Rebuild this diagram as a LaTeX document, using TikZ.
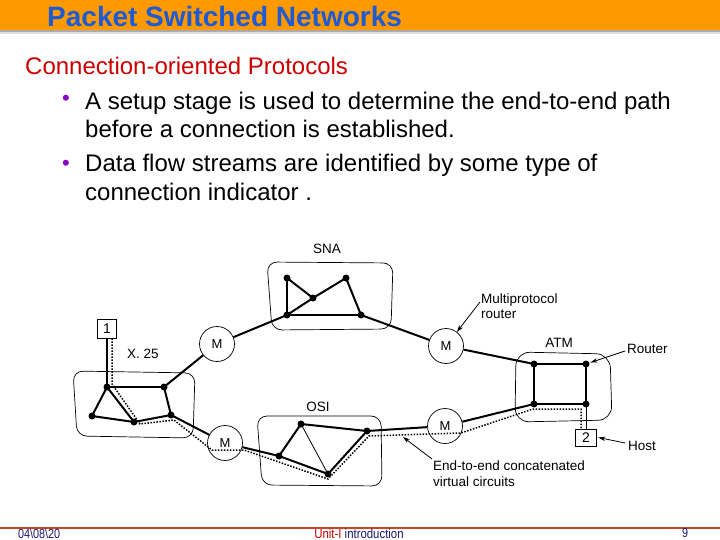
\documentclass[tikz,border=0pt]{standalone}
\usepackage{fontspec}
\usepackage{graphicx}
\setmainfont{Liberation Sans}
\usetikzlibrary{arrows.meta}
\definecolor{barorange}{RGB}{255,153,0}
\definecolor{titleblue}{RGB}{30,90,210}
\definecolor{headred}{RGB}{204,0,0}
\definecolor{bulletpurple}{RGB}{140,0,200}
\definecolor{footred}{RGB}{205,70,40}
\definecolor{footnavy}{RGB}{25,25,110}
\begin{document}
\begin{tikzpicture}[x=1pt,y=-1pt,
  dot/.style={circle,fill=black,inner sep=0pt,minimum size=7pt},
  mnode/.style={circle,draw,line width=0.7pt,minimum size=35pt,inner sep=0pt,font=\fontsize{13}{15}\selectfont},
  hostbox/.style={draw,line width=0.7pt,minimum width=19pt,minimum height=19pt,inner sep=0pt,font=\fontsize{14}{16}\selectfont},
  link/.style={line width=2pt},
  thinlink/.style={line width=0.8pt},
  region/.style={line width=0.7pt,rounded corners=10pt},
  vc/.style={line width=1.5pt,dash pattern=on 1.5pt off 1.5pt},
  lbl/.style={font=\fontsize{13.5}{16}\selectfont,inner sep=0pt},
  body/.style={anchor=base west,inner sep=0pt,font=\fontsize{24}{29}\selectfont},
  bul/.style={inner sep=0pt,text=bulletpurple,font=\fontsize{22}{22}\selectfont},
  foot/.style={anchor=base west,inner sep=0pt,font=\fontsize{12}{14}\selectfont},
  callout/.style={line width=0.8pt,-{Stealth[length=7pt,width=4.5pt]}}]
\useasboundingbox (0,0) rectangle (720,540);
\fill[white] (0,0) rectangle (720,540);
% header bar
\fill[barorange] (0,0) rectangle (720,30);
\fill[gray!65] (0,30) rectangle (720,32);
\fill[gray!25] (0,32) rectangle (720,34);
\node[anchor=base west,inner sep=0pt,text=titleblue,font=\fontsize{28}{30}\selectfont\bfseries] (title) at (47,27) {Packet Switched Networks};
% text
\node[anchor=base west,inner sep=0pt,text=headred,font=\fontsize{24}{29}\selectfont] (head) at (25,75) {Connection-oriented Protocols};
\node[bul] (b1) at (66,100) {•};
\node[body] (t1) at (85,110) {A setup stage is used to determine the end-to-end path};
\node[body] (t2) at (85,138) {before a connection is established.};
\node[bul] (b2) at (66,165) {•};
\node[body] (t3) at (85,172) {Data flow streams are identified by some type of};
\node[body] (t4) at (85,201) {connection indicator .};
% footer
\draw[footred,line width=1.2pt] (0,528) -- (720,528);
\node[foot,text=footnavy] (date) at (18,538) {\scalebox{0.9}[1.1]{04\textbackslash 08\textbackslash 20}};
\node[foot,anchor=base] (unit) at (359,538) {\scalebox{0.95}[1.1]{\textcolor{headred}{Unit-I} \textcolor{footnavy}{introduction}}};
\node[foot,text=footnavy] (page) at (682,537) {\scalebox{0.9}[1.1]{9}};
% regions
\draw[region] (73,371) -- (195,373) -- (193,438) -- (77,436) -- cycle;
\draw[region] (267,262) -- (393,263) -- (391,329) -- (272,330) -- cycle;
\draw[region] (257,416) -- (381,416) -- (382,486) -- (262,485) -- cycle;
\draw[line width=0.7pt,rounded corners=14pt] (516,352) -- (610,354) -- (612,420) -- (515,422) -- cycle;
% region labels
\node[lbl,anchor=base] (lx25) at (143,358) {X. 25};
\node[lbl,anchor=base] (lsna) at (327,253) {SNA};
\node[lbl,anchor=base] (losi) at (318,411) {OSI};
\node[lbl,anchor=base] (latm) at (559,347) {ATM};
% hosts
\node[hostbox] (h1) at (107,328.5) {1};
\node[hostbox,minimum width=21pt,minimum height=17pt] (h2) at (586,437.5) {2};
% multiprotocol routers
\node[mnode] (M1) at (217,344) {M};
\node[mnode] (M2) at (225,443) {M};
\node[mnode] (M4) at (446,346) {M};
\node[mnode] (M3) at (445,426) {M};
% dots
\node[dot] (A) at (107,387) {};
\node[dot] (B) at (164,387) {};
\node[dot] (C) at (92,416) {};
\node[dot] (D) at (134,422) {};
\node[dot] (E) at (171,415) {};
\node[dot] (J) at (287,278) {};
\node[dot] (K) at (313,298) {};
\node[dot] (L) at (346,278) {};
\node[dot] (N) at (287,315) {};
\node[dot] (O) at (361,315) {};
\node[dot] (F) at (279,456) {};
\node[dot] (G) at (301,424) {};
\node[dot] (H) at (328,474) {};
\node[dot] (I) at (367,431) {};
\node[dot] (P) at (534,364) {};
\node[dot] (Q) at (586,364) {};
\node[dot] (R) at (534,404) {};
\node[dot] (S) at (586,404) {};
% links
\draw[link] (A.center) -- (h1.south);
\draw[link] (A.center) -- (B.center);
\draw[link] (A.center) -- (C.center);
\draw[link] (A.center) -- (D.center);
\draw[link] (C.center) -- (D.center);
\draw[link] (D.center) -- (E.center);
\draw[link] (B.center) -- (E.center);
\draw[link] (B.center) -- (M1);
\draw[link] (E.center) -- (M2);
\draw[link] (M1) -- (N.center);
\draw[link] (N.center) -- (K.center) -- (L.center);
\draw[link] (J.center) -- (K.center);
\draw[link] (J.center) -- (N.center);
\draw[link] (N.center) -- (O.center);
\draw[link] (L.center) -- (O.center);
\draw[link] (O.center) -- (M4);
\draw[link] (M4) -- (P.center);
\draw[link] (M2) -- (F.center);
\draw[link] (F.center) -- (G.center);
\draw[link] (F.center) -- (H.center);
\draw[link] (H.center) -- (I.center);
\draw[link] (G.center) -- (I.center);
\draw[thinlink] (G.center) -- (H.center);
\draw[link] (I.center) -- (M3);
\draw[link] (M3) -- (R.center);
\draw[link] (P.center) -- (Q.center) -- (S.center) -- (R.center) -- cycle;
\draw[thinlink] (S.center) -- (h2.north);
% end-to-end virtual circuit
\draw[vc] ([xshift=5pt]h1.south) -- (112,384) -- (140,424) -- (174,420) -- (212,450) -- (244,450) -- (328,479) -- (369,436) -- (428,434) -- (461,433) -- (533,409) -- (581,409) -- ([xshift=-5pt]h2.north);
% callouts
\node[lbl,anchor=base west] (mpr) at (481,303) {Multiprotocol};
\node[lbl,anchor=base west] (mpr2) at (481,318) {router};
\node[lbl,anchor=base west] (rtr) at (627,353) {Router};
\node[lbl,anchor=base west] (hst) at (628,450) {Host};
\node[lbl,anchor=base west] (e2e) at (433,470) {End-to-end concatenated};
\node[lbl,anchor=base west] (e2e2) at (433,486) {virtual circuits};
\coordinate (mprtail) at (480,302);
\coordinate (rtrtail) at (625,351);
\coordinate (hsttail) at (625,443);
\coordinate (e2etail) at (432,459);
\coordinate (e2etip) at (403,437);
\draw[callout] (mprtail) -- (M4);
\draw[callout,shorten >=1pt] (rtrtail) -- (Q);
\draw[callout] (hsttail) -- ([xshift=1.5pt]h2.east);
\draw[callout] (e2etail) -- (e2etip);
\end{tikzpicture}
\end{document}
